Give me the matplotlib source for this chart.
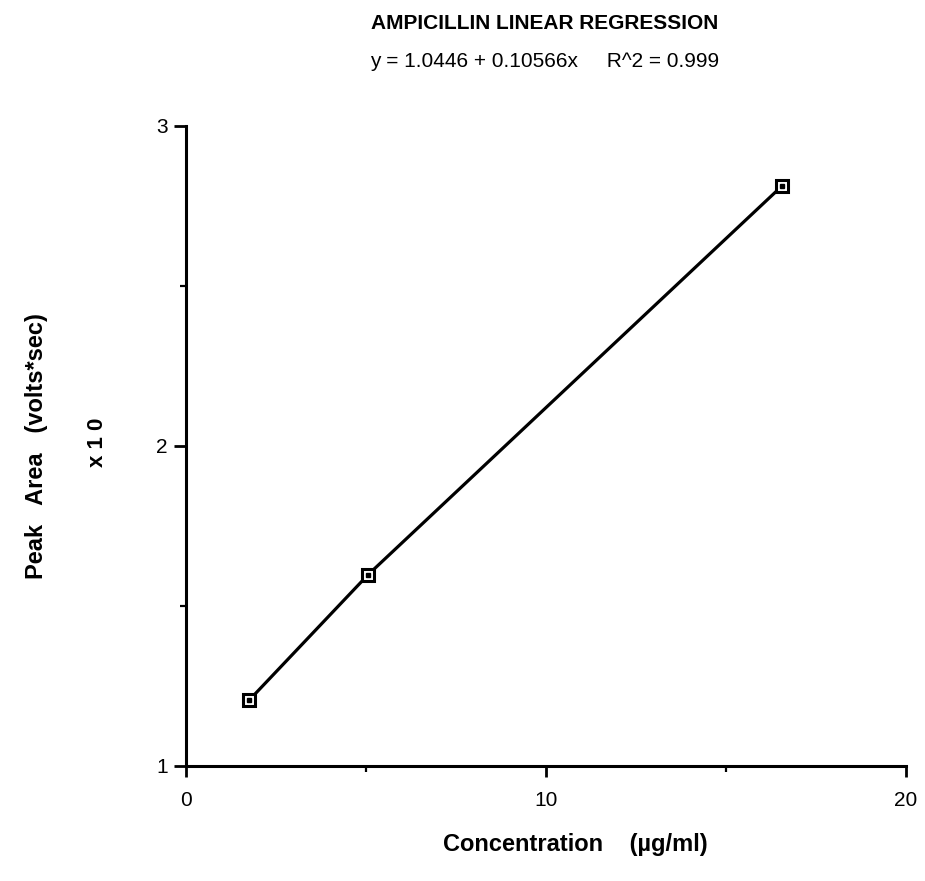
import matplotlib
matplotlib.use("Agg")
import matplotlib.pyplot as plt
from matplotlib.ticker import MultipleLocator

# Data (peak area in units of x10 volts*sec)
concentration = [1.76, 5.06, 16.56]
peak_area = [1.205, 1.597, 2.813]

x_ticks = [0, 10, 20]
y_ticks = [1, 2, 3]

plt.rcParams.update({
    "font.family": ["Liberation Sans", "DejaVu Sans"],
    "font.size": 15,
})

fig = plt.figure(figsize=(9.25, 8.81), dpi=100)
ax = fig.add_axes([0.2011, 0.1311, 0.7784, 0.7259])

ax.plot(concentration, peak_area, color="black", linewidth=2.3,
        marker="s", markersize=9, markerfacecolor="white",
        markeredgecolor="black", markeredgewidth=2.2, zorder=3)
ax.plot(concentration, peak_area, linestyle="none", marker="s",
        markersize=2.2, color="black", zorder=4)

ax.set_xlim(0, 20)
ax.set_ylim(1, 3)
ax.set_xticks(x_ticks)
ax.set_yticks(y_ticks)
ax.xaxis.set_minor_locator(MultipleLocator(5))
ax.yaxis.set_minor_locator(MultipleLocator(0.5))

for side in ("top", "right"):
    ax.spines[side].set_visible(False)
for side in ("left", "bottom"):
    ax.spines[side].set_linewidth(2.2)

ax.tick_params(axis="x", which="major", direction="out", length=8,
               width=2, labelsize=15, pad=10)
ax.tick_params(axis="y", which="major", direction="out", length=9,
               width=2, labelsize=15, pad=4)
ax.tick_params(axis="both", which="minor", direction="out", length=4,
               width=1.6)

# axis titles placed in figure coords to match the original layout
fig.text(0.622, 0.041, "Concentration    (\u00b5g/ml)", ha="center",
         va="center", fontsize=17, fontweight="bold")
fig.text(0.040, 0.494, "Peak   Area   (volts*sec)", rotation=90,
         ha="center", va="center", fontsize=17, fontweight="bold")
fig.text(0.105, 0.498, "x 1 0", rotation=90, ha="center", va="center",
         fontsize=16, fontweight="bold")

fig.text(0.589, 0.973, "AMPICILLIN LINEAR REGRESSION", ha="center",
         va="center", fontsize=15, fontweight="bold")
fig.text(0.589, 0.930, "y = 1.0446 + 0.10566x     R^2 = 0.999", ha="center",
         va="center", fontsize=15)

fig.savefig("out.png", dpi=100)
